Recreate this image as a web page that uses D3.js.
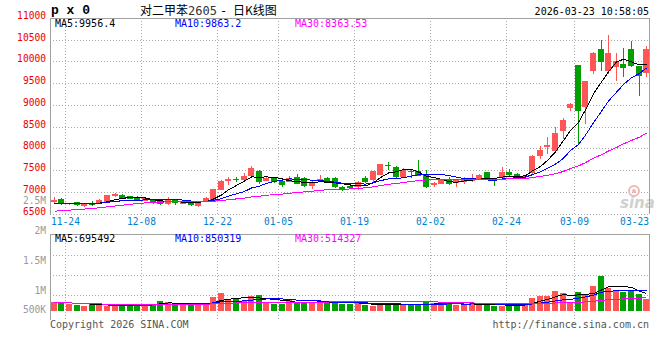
<!DOCTYPE html>
<html>
<head>
<meta charset="utf-8">
<script src="https://cdn.jsdelivr.net/npm/d3@7"></script>
<style>
body { margin: 0; background: #fff; }
svg { display: block; }
text { font-family: "DejaVu Sans Mono", monospace; font-size: 10px; }
.axis { font-size: 9.6px; }
</style>
</head>
<body>
<svg id="chart" width="660" height="360"></svg>
<script>
// ------------------- data -------------------
const dates = ["11-21",
  "11-24","11-25","11-26","11-27","11-28",
  "12-01","12-02","12-03","12-04","12-05",
  "12-08","12-09","12-10","12-11","12-12",
  "12-15","12-16","12-17","12-18","12-19",
  "12-22","12-23","12-24","12-25","12-26",
  "12-29","12-30","12-31",
  "01-05","01-06","01-07","01-08","01-09",
  "01-12","01-13","01-14","01-15","01-16",
  "01-19","01-20","01-21","01-22","01-23",
  "01-26","01-27","01-28","01-29","01-30",
  "02-02","02-03","02-04","02-05","02-06",
  "02-09","02-10","02-11","02-12","02-13",
  "02-24","02-25","02-26","02-27",
  "03-02","03-03","03-04","03-05","03-06",
  "03-09","03-10","03-11","03-12","03-13",
  "03-16","03-17","03-18","03-19","03-20",
  "03-23"];

const opens = [6754,6832,6708,6754,6662,6730,6717,6770,6895,6931,
  6901,6885,6793,6832,6793,6717,6809,6730,6763,6670,
  6763,6793,7047,7247,7305,7277,7353,7485,7254,7330,
  7254,7230,7345,7316,7139,7240,7316,7316,7100,7139,
  7100,7316,7277,7390,7620,7560,7350,7485,7485,7420,
  7162,7190,7270,7200,7215,7240,7277,7445,7280,7310,
  7460,7410,7330,7430,7830,8020,7945,8408,8922,9910,
  8945,9770,10290,9790,9870,9930,10290,9890,9740];
const highs = [6885,6850,6750,6770,6740,6790,6840,6925,6965,6940,
  6910,6905,6870,6845,6800,6885,6820,6800,6770,6780,
  6870,7075,7265,7330,7340,7430,7600,7500,7370,7350,
  7270,7360,7420,7330,7240,7385,7330,7330,7130,7150,
  7250,7370,7480,7650,7680,7590,7540,7530,7720,7490,
  7230,7300,7340,7300,7340,7410,7420,7460,7300,7560,
  7525,7440,7380,7840,8060,8255,8485,8700,9045,9920,
  9550,10215,10505,10600,10200,10305,10460,9900,10345];
const lows = [6730,6700,6690,6680,6650,6675,6710,6760,6885,6840,
  6830,6780,6780,6730,6700,6705,6700,6720,6680,6660,
  6755,6785,7040,7150,7230,7240,7340,7190,7240,7200,
  7100,7220,7170,7110,7070,7230,7240,7080,7010,7070,
  7030,7200,7220,7380,7500,7320,7320,7320,7360,7080,
  7120,7180,7150,7120,7180,7230,7270,7280,7140,7300,
  7330,7330,7320,7420,7755,7870,7905,8215,8870,8080,
  8560,9715,9770,9715,9545,9640,9870,9215,9640];
const closes = [6816,6717,6740,6694,6731,6705,6816,6916,6940,6855,
  6840,6793,6855,6740,6717,6816,6740,6793,6700,6763,
  6847,7062,7254,7293,7270,7353,7538,7230,7316,7230,
  7162,7316,7180,7139,7230,7293,7254,7100,7047,7085,
  7215,7230,7470,7640,7610,7350,7505,7445,7370,7120,
  7200,7293,7180,7293,7293,7293,7385,7293,7265,7460,
  7390,7355,7370,7830,7970,8085,8345,8660,9025,8870,
  9540,10200,9995,10190,10020,9845,9890,9660,10290];
// closes of the 29 sessions before the first candle (only feed the averages)
const priorCloses = [6350,6330,6360,6340,6310,6300,6290,6320,6310,6280,
  6300,6330,6420,6550,6620,6700,6740,6760,6780,6790,
  6760,6720,6700,6750,6780,6740,6710,6700,6730];

const volumes = [385000,398000,296000,265000,221000,354000,265000,221000,221000,221000,
  221000,310000,310000,310000,442000,398000,296000,296000,296000,310000,
  310000,619000,796000,531000,531000,442000,664000,708000,398000,310000,
  310000,487000,385000,385000,341000,442000,367000,398000,310000,296000,
  398000,265000,221000,265000,341000,310000,250000,250000,265000,442000,
  341000,310000,354000,265000,265000,354000,296000,265000,221000,221000,
  265000,310000,310000,590000,678000,678000,900000,796000,341000,855000,
  767000,1106000,1562000,1031000,885000,826000,885000,752000,531000];

const priceTicks = [11000,10500,10000,9500,9000,8500,8000,7500,7000,6500];
const volTicks = [2500000,2000000,1500000,1000000,500000];
const volTickLabels = ["2.5M","2M","1.5M","1M","500K"];
const dateTicks = ["11-24","12-08","12-22","01-05","01-19","02-02","02-24","03-09","03-23"];
const maPeriods = [5,10,30];
const maColors = ["#000000","#0000ff","#ff00ff"];
const priceLegend = ["MA5:9956.4","MA10:9863.2","MA30:8363.53"];
const volLegend = ["MA5:695492","MA10:850319","MA30:514327"];

const upColor = "#ff5555";
const downColor = "#00a000";
const gridColor = "#aaaaaa";
const frameColor = "#a0a0a0";

// ------------------- scales -------------------
const svg = d3.select("#chart");
const left = 50, right = 650;
const pTop = 18, pBottom = 213.5;
const vTop = 234, vBottom = 311;

const x = d3.scaleBand().domain(dates).range([left, right]).paddingInner(0.2).paddingOuter(0.1);
const y = d3.scaleLinear().domain([6500, 11000]).range([pBottom, pTop]);
const yv = d3.scaleLinear().domain([0, 3400000]).range([vBottom, vTop]);
// the volume labels do not sit on the bar scale in the original
const yvLabel = d3.scaleLinear().domain([1000000, 2000000]).range([294, 234]);

const half = x.step() / 2;
function cx(d) { return Math.round(x(d) + x.bandwidth() / 2) + 0.5; }
function gx(d) { return Math.round(x(d) + x.bandwidth() / 2 + half) + 0.5; }

function movingAverage(values, n, prior) {
  const all = prior.concat(values);
  return values.map(function(v, i) {
    const k = i + prior.length;
    const start = Math.max(0, k - n + 1);
    let s = 0;
    for (let j = start; j <= k; j++) s += all[j];
    return s / (k - start + 1);
  });
}

// ------------------- grid -------------------
const grid = svg.append("g").attr("stroke", gridColor).attr("stroke-dasharray", "1,2").attr("shape-rendering", "crispEdges");

grid.selectAll(".hp").data(priceTicks.slice(1)).enter().append("line")
  .attr("x1", left).attr("x2", right)
  .attr("y1", d => Math.round(y(d)) + 0.5).attr("y2", d => Math.round(y(d)) + 0.5);

grid.selectAll(".hv").data([255, 275, 295]).enter().append("line")
  .attr("x1", left).attr("x2", right)
  .attr("y1", d => d + 0.5).attr("y2", d => d + 0.5);

const vGridDates = dateTicks.slice(0, -1);
grid.selectAll(".vp").data(vGridDates).enter().append("line")
  .attr("x1", gx).attr("x2", gx)
  .attr("y1", pTop).attr("y2", pBottom);
grid.selectAll(".vv").data(vGridDates).enter().append("line")
  .attr("x1", gx).attr("x2", gx)
  .attr("y1", vTop).attr("y2", vBottom + 8);

// ------------------- watermark -------------------
const wm = svg.append("g");
wm.append("circle").attr("cx", 634).attr("cy", 191).attr("r", 5)
  .attr("fill", "none").attr("stroke", "#f2b8b8").attr("stroke-width", 2);
wm.append("circle").attr("cx", 634).attr("cy", 191).attr("r", 2).attr("fill", "#f2b8b8");
wm.append("text").attr("x", 620).attr("y", 208)
  .style("font-family", "'DejaVu Sans', sans-serif").style("font-size", "15px")
  .style("font-weight", "bold").style("font-style", "italic")
  .attr("fill", "#d0d0d0").text("sina");

// ------------------- candles -------------------
const candles = svg.append("g").attr("shape-rendering", "crispEdges");
const idx = d3.range(dates.length);

candles.selectAll(".wick").data(idx).enter().append("line")
  .attr("x1", i => cx(dates[i])).attr("x2", i => cx(dates[i]))
  .attr("y1", i => y(highs[i])).attr("y2", i => y(lows[i]))
  .attr("stroke", i => closes[i] >= opens[i] ? upColor : downColor);

candles.selectAll(".body").data(idx).enter().append("rect")
  .attr("x", i => cx(dates[i]) - 3.5)
  .attr("width", 6)
  .attr("y", i => y(Math.max(opens[i], closes[i])))
  .attr("height", i => Math.max(1, Math.abs(y(opens[i]) - y(closes[i]))))
  .attr("fill", i => closes[i] >= opens[i] ? upColor : downColor);

// ------------------- volume bars -------------------
svg.append("g").attr("shape-rendering", "crispEdges")
  .selectAll("rect").data(idx).enter().append("rect")
  .attr("x", i => cx(dates[i]) - 3.5)
  .attr("width", 6)
  .attr("y", i => yv(volumes[i]))
  .attr("height", i => yv(0) - yv(volumes[i]))
  .attr("fill", i => closes[i] >= opens[i] ? upColor : downColor);

// ------------------- moving averages -------------------
maPeriods.forEach(function(n, k) {
  const ma = movingAverage(closes, n, priorCloses);
  const line = d3.line().x((v, i) => cx(dates[i])).y(v => y(v));
  svg.append("path").attr("d", line(ma))
    .attr("fill", "none").attr("stroke", maColors[k]).attr("stroke-width", 1)
    .attr("shape-rendering", "crispEdges");

  const vma = movingAverage(volumes, n, []);
  const vline = d3.line().x((v, i) => cx(dates[i])).y(v => yv(v));
  svg.append("path").attr("d", vline(vma))
    .attr("fill", "none").attr("stroke", maColors[k]).attr("stroke-width", 1)
    .attr("shape-rendering", "crispEdges");
});

// ------------------- frames -------------------
const frame = svg.append("g").attr("stroke", frameColor).attr("fill", "none").attr("shape-rendering", "crispEdges");
frame.append("path").attr("d", "M50.5," + pBottom + "V18.5H649.5V" + pBottom);
frame.append("path").attr("d", "M50.5,320V234.5H649.5V" + vBottom);

// ------------------- texts -------------------
svg.selectAll(".pt").data(priceTicks).enter().append("text")
  .attr("class", "axis")
  .attr("x", 46).attr("y", d => y(d) + 1).attr("text-anchor", "end")
  .attr("fill", "#ee0000").text(d => d);

svg.selectAll(".vt").data(volTicks).enter().append("text")
  .attr("class", "axis")
  .attr("x", 46).attr("y", d => Math.min(313, yvLabel(d)))
  .attr("text-anchor", "end").attr("fill", "#999999")
  .text((d, i) => volTickLabels[i]);

svg.selectAll(".dt").data(dateTicks).enter().append("text")
  .attr("class", "axis")
  .attr("x", (d, i) => i === dateTicks.length - 1 ? 649 : gx(d))
  .attr("y", 224.5)
  .attr("text-anchor", (d, i) => i === dateTicks.length - 1 ? "end" : "middle")
  .attr("fill", "#0080d0").text(d => d);

const legendX = [55, 175, 295];
svg.selectAll(".pl").data(priceLegend).enter().append("text")
  .attr("x", (d, i) => legendX[i]).attr("y", 27)
  .attr("fill", (d, i) => maColors[i]).text(d => d);
svg.selectAll(".vl").data(volLegend).enter().append("text")
  .attr("x", (d, i) => legendX[i]).attr("y", 242)
  .attr("fill", (d, i) => maColors[i]).text(d => d);

svg.append("text").attr("x", 51).attr("y", 14)
  .style("font-family", "'Liberation Mono', monospace").style("font-size", "13px").style("font-weight", "bold")
  .text("p x 0");

const title = svg.append("text").attr("y", 15).style("font-size", "12px");
title.append("tspan").attr("x", 140).style("font-family", "'Noto Sans CJK SC', sans-serif").text("对二甲苯");
title.append("tspan").attr("x", 188).attr("fill", "#333").text("2605");
title.append("tspan").attr("x", 220).text("-");
title.append("tspan").attr("x", 233).style("font-family", "'Noto Sans CJK SC', sans-serif").text("日K线图");

svg.append("text").attr("x", 649).attr("y", 15).attr("text-anchor", "end").text("2026-03-23 10:58:05");

svg.append("text").attr("x", 50).attr("y", 328).attr("fill", "#555").text("Copyright 2026 SINA.COM");
svg.append("text").attr("x", 649).attr("y", 328).attr("text-anchor", "end").attr("fill", "#555").text("http://finance.sina.com.cn");
</script>
</body>
</html>
